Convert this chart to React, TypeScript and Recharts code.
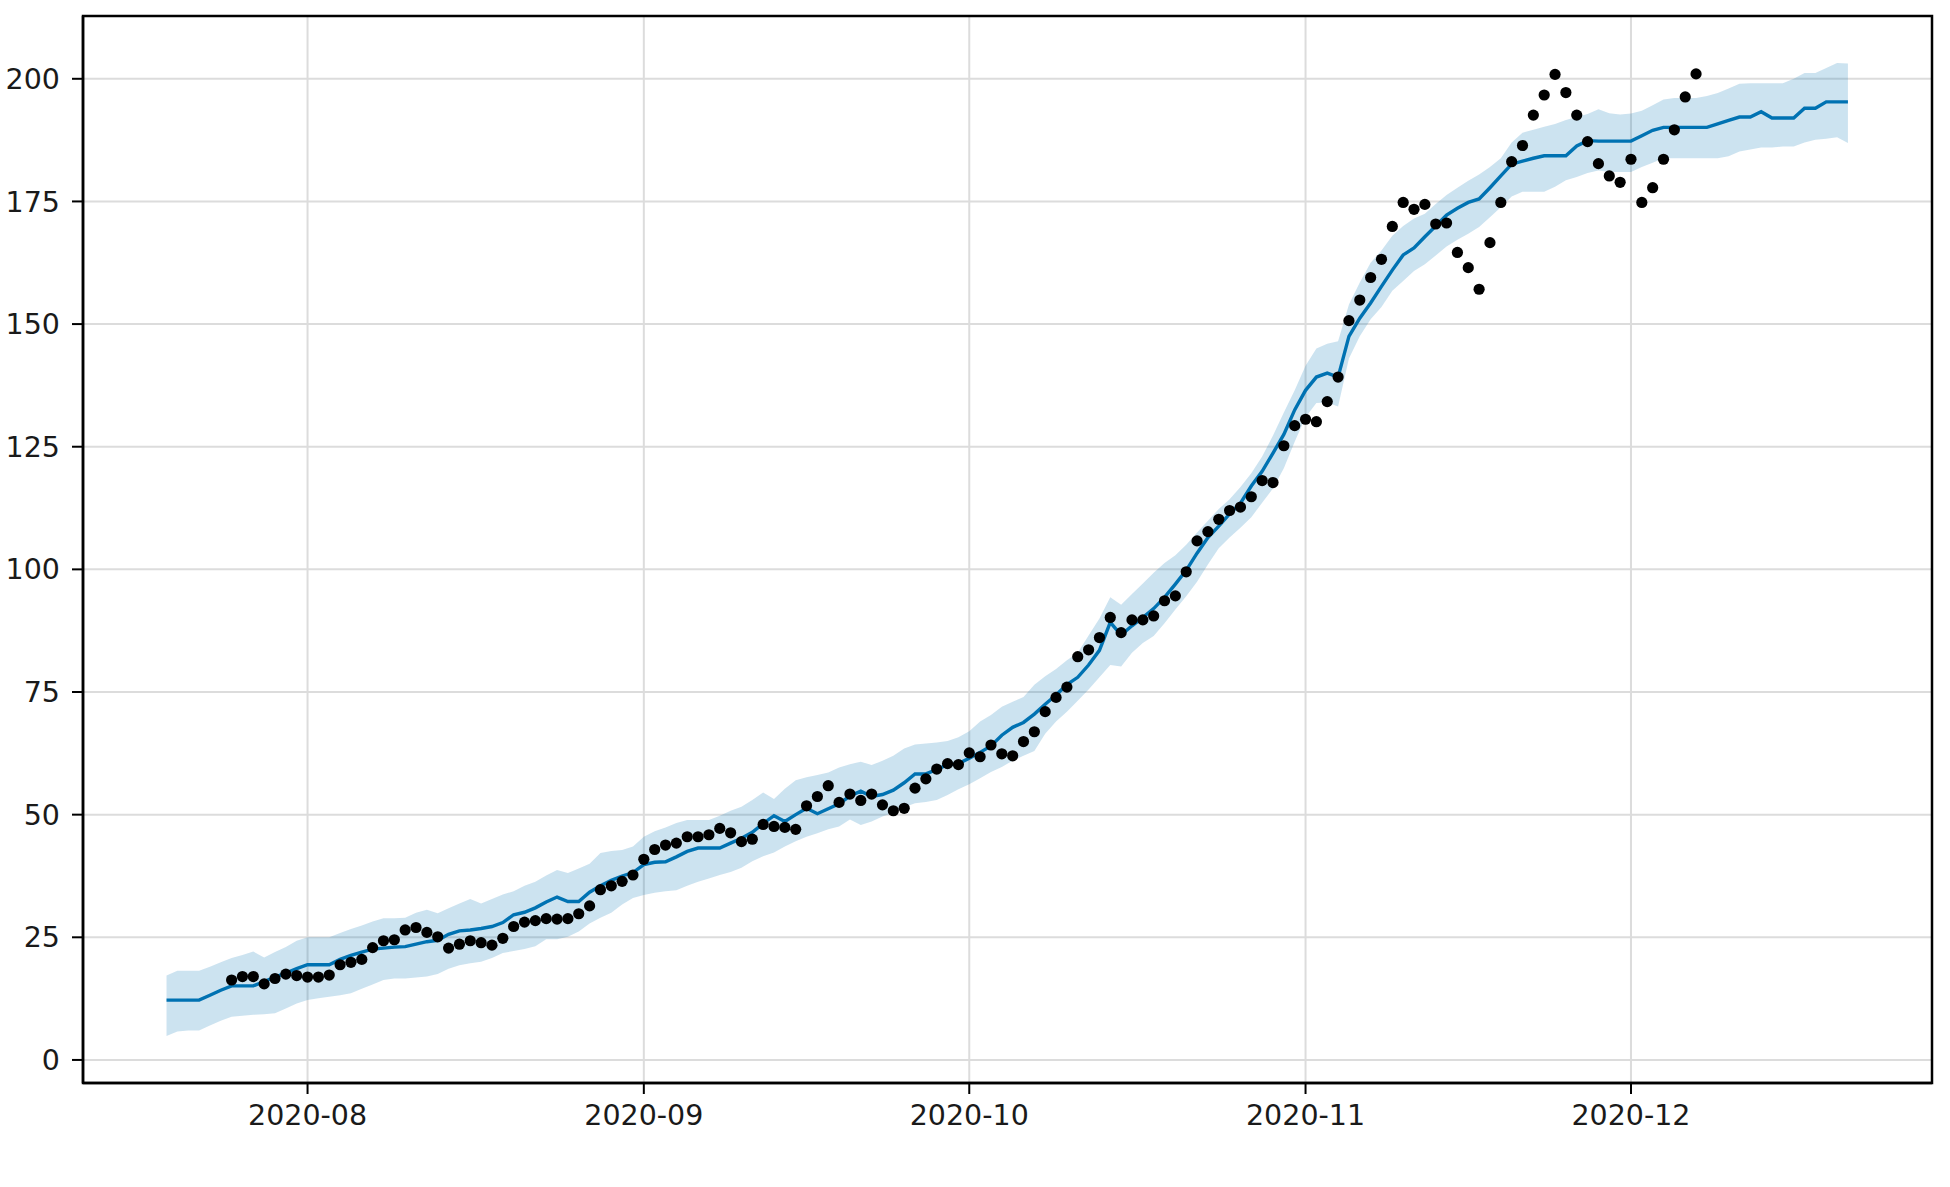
import React from 'react';
import {
  ComposedChart,
  Area,
  Line,
  Scatter,
  XAxis,
  YAxis,
  CartesianGrid,
  ReferenceArea,
} from 'recharts';

// day 0 = 2020-07-19, one value per day up to 2020-12-21
const yhat = [
  12.2, 12.2, 12.2, 12.2, 13.2, 14.2, 15.1, 15.1, 15.1, 16.0,
  16.9, 17.7, 18.6, 19.4, 19.4, 19.4, 20.5, 21.3, 22.0, 22.6,
  22.8, 23.0, 23.1, 23.6, 24.1, 24.4, 25.6, 26.3, 26.5, 26.8,
  27.2, 28.0, 29.6, 30.1, 31.0, 32.2, 33.2, 32.3, 32.3, 34.2,
  35.5, 36.6, 37.5, 38.2, 39.8, 40.3, 40.4, 41.4, 42.5, 43.2,
  43.2, 43.2, 44.2, 45.2, 46.4, 48.2, 49.8, 48.6, 50.0, 51.3,
  50.2, 51.2, 52.2, 53.8, 54.8, 53.7, 54.1, 55.0, 56.5, 58.3,
  58.3, 59.2, 60.2, 60.4, 61.5, 62.7, 64.0, 66.2, 67.8, 68.8,
  70.5, 72.5, 74.4, 76.5, 78.0, 80.5, 83.5, 89.2, 86.6, 88.5,
  90.2, 92.0, 94.3, 97.0, 99.8, 103.3, 106.5, 108.8, 111.3, 113.5,
  117.0, 120.0, 123.7, 127.5, 132.5, 136.5, 139.2, 140.0, 139.2, 147.5,
  151.2, 154.3, 157.7, 161.0, 164.1, 165.5, 167.8, 170.0, 172.2, 173.6,
  174.8, 175.5, 177.8, 180.2, 182.6, 183.2, 183.8, 184.3, 184.3, 184.3,
  186.3, 187.4, 187.3, 187.3, 187.3, 187.3, 188.4, 189.5, 190.1, 190.1,
  190.1, 190.1, 190.1, 190.8, 191.5, 192.2, 192.2, 193.3, 192.0, 192.0,
  192.0, 194.0, 194.0, 195.3, 195.3, 195.3,
];

const yhatUpper = [
  17.2, 18.2, 18.2, 18.2, 19.0, 19.9, 20.8, 21.4, 22.1, 20.9,
  22.0, 23.0, 24.3, 25.0, 25.0, 25.0, 25.9, 26.7, 27.4, 28.2,
  28.9, 28.9, 29.0, 30.0, 30.6, 29.9, 30.9, 31.9, 32.8, 31.9,
  32.8, 33.7, 34.4, 35.5, 36.3, 37.6, 38.7, 38.1, 39.0, 40.0,
  42.2, 42.6, 42.8, 43.5, 45.5, 46.6, 47.4, 48.3, 48.9, 48.9,
  48.9, 49.8, 50.8, 51.6, 53.0, 54.5, 53.2, 55.3, 57.0, 57.6,
  58.1, 58.6, 59.6, 60.3, 60.8, 60.1, 61.0, 62.0, 63.5, 64.3,
  64.5, 64.7, 65.0, 65.8, 67.0, 69.0, 70.3, 72.0, 73.0, 74.0,
  76.5, 78.2, 79.7, 81.5, 83.0, 86.5, 90.0, 94.3, 92.8, 95.0,
  97.1, 99.3, 101.3, 102.9, 105.0, 107.5, 109.9, 112.3, 114.3, 116.8,
  119.6, 123.0, 127.3, 132.0, 136.5, 141.5, 145.0, 146.0, 146.5, 154.0,
  158.5, 162.5, 165.0, 168.0, 170.0, 171.5, 172.5, 174.5, 176.3, 177.8,
  179.2, 180.5, 182.0, 183.8, 187.0, 189.0, 189.6, 190.2, 190.8, 191.6,
  192.2, 192.8, 193.8, 193.0, 192.7, 192.9, 193.5, 194.6, 195.8, 196.1,
  196.1, 196.1, 196.5, 197.1, 198.0, 199.0, 199.1, 199.1, 199.1, 199.1,
  200.0, 201.2, 201.2, 202.2, 203.2, 203.1,
];

const yhatLower = [
  4.9, 5.8, 6.0, 6.0, 7.0, 8.0, 8.8, 9.0, 9.2, 9.3,
  9.5, 10.5, 11.5, 12.2, 12.6, 12.9, 13.2, 13.6, 14.5, 15.4,
  16.3, 16.6, 16.6, 16.8, 17.0, 17.5, 18.6, 19.3, 19.7, 20.0,
  20.8, 21.8, 22.2, 22.6, 23.2, 24.6, 24.6, 25.1, 26.2, 27.8,
  29.0, 30.0, 31.7, 33.0, 33.6, 34.1, 34.4, 34.6, 35.5, 36.3,
  37.0, 37.7, 38.3, 39.2, 40.5, 41.5, 42.3, 43.5, 44.6, 45.5,
  46.2, 47.0, 47.6, 49.0, 47.9, 48.6, 49.6, 50.4, 51.5, 52.3,
  52.6, 53.0, 54.0, 55.2, 56.2, 57.4, 58.7, 59.7, 61.0, 62.0,
  63.0, 66.5, 69.0, 71.0, 73.2, 75.5, 78.0, 80.5, 80.2, 83.0,
  85.0, 86.4, 89.0, 91.8, 94.5, 97.5, 101.0, 104.3, 106.5, 108.5,
  110.6, 113.6, 116.5, 120.6, 126.0, 131.0, 133.9, 134.0, 133.2, 143.0,
  147.5, 151.0, 153.5, 156.8, 158.8, 160.8, 162.2, 164.0, 165.8, 167.2,
  168.4, 169.8, 171.8, 173.8, 176.0, 177.0, 177.0, 177.0, 178.0, 179.3,
  180.0, 180.8, 181.3, 181.0, 181.0, 181.0, 182.0, 182.9, 183.8, 183.8,
  183.8, 183.8, 183.8, 183.8, 184.2, 185.2, 185.6, 186.0, 186.0, 186.2,
  186.2, 187.0, 187.6, 187.8, 188.1, 186.9,
];

// observations start on day 6 (2020-07-25) and end 2020-12-07
const OBSERVED_START = 6;
const observed = [
  16.3, 17.0, 17.0, 15.5, 16.6, 17.5, 17.2, 16.9, 16.9, 17.3,
  19.4, 19.9, 20.5, 22.9, 24.3, 24.5, 26.5, 27.0, 26.0, 25.1,
  22.8, 23.6, 24.3, 23.9, 23.4, 24.8, 27.2, 28.1, 28.4, 28.8,
  28.7, 28.8, 29.8, 31.4, 34.7, 35.5, 36.4, 37.7, 40.9, 42.9,
  43.8, 44.2, 45.5, 45.5, 45.9, 47.2, 46.3, 44.5, 45.0, 48.0,
  47.6, 47.4, 47.0, 51.8, 53.7, 55.9, 52.5, 54.2, 52.9, 54.2,
  52.0, 50.8, 51.3, 55.4, 57.3, 59.3, 60.4, 60.2, 62.6, 61.8,
  64.2, 62.4, 62.0, 64.9, 66.9, 71.0, 73.9, 76.0, 82.2, 83.6,
  86.1, 90.2, 87.1, 89.7, 89.7, 90.5, 93.6, 94.6, 99.5, 105.8,
  107.7, 110.2, 112.0, 112.7, 114.8, 118.1, 117.7, 125.2, 129.3, 130.6,
  130.1, 134.2, 139.2, 150.7, 154.9, 159.5, 163.2, 169.9, 174.8, 173.4,
  174.4, 170.4, 170.6, 164.6, 161.5, 157.1, 166.6, 174.8, 183.1, 186.4,
  192.6, 196.7, 200.9, 197.2, 192.6, 187.2, 182.7, 180.2, 178.9, 183.6,
  174.8, 177.8, 183.6, 189.6, 196.3, 201.0,
];

const xTickDays = [13, 44, 74, 105, 135];
const xTickLabels = ['2020-08', '2020-09', '2020-10', '2020-11', '2020-12'];
const yTicks = [0, 25, 50, 75, 100, 125, 150, 175, 200];

const forecastRows = yhat.map((v, i) => ({
  day: i,
  yhat: v,
  band: [yhatLower[i], yhatUpper[i]],
}));

const observedRows = observed.map((v, i) => ({ day: OBSERVED_START + i, y: v }));

const X_DOMAIN: [number, number] = [-7.7, 162.75];
const Y_DOMAIN: [number, number] = [-4.7, 212.8];

const tickStyle = { fill: '#1a1a1a', fontSize: 28.5, fontFamily: 'DejaVu Sans' };

const Dot = (props: any) => {
  if (props.cx == null || props.cy == null) return null;
  return <circle cx={props.cx} cy={props.cy} r={5.6} fill="#000" />;
};

export default function App() {
  return (
    <div style={{ position: 'absolute', left: 0, top: 0, background: '#fff' }}>
      <ComposedChart
        width={1950}
        height={1187}
        data={forecastRows}
        margin={{ top: 16, right: 18, bottom: 44, left: 0 }}
      >
        <CartesianGrid stroke="#dcdcdc" strokeWidth={2} />
        <XAxis
          dataKey="day"
          type="number"
          domain={X_DOMAIN}
          allowDataOverflow
          ticks={xTickDays}
          tickFormatter={(d: number) => xTickLabels[xTickDays.indexOf(d)] ?? ''}
          tick={tickStyle}
          tickSize={11}
          tickMargin={11}
          height={60}
          axisLine={{ stroke: '#000', strokeWidth: 2.5 }}
          tickLine={{ stroke: '#000', strokeWidth: 2 }}
        />
        <YAxis
          type="number"
          domain={Y_DOMAIN}
          allowDataOverflow
          ticks={yTicks}
          tick={tickStyle}
          tickSize={11}
          tickMargin={12}
          width={83}
          axisLine={{ stroke: '#000', strokeWidth: 2.5 }}
          tickLine={{ stroke: '#000', strokeWidth: 2 }}
        />
        <Scatter
          data={observedRows}
          dataKey="y"
          shape={<Dot />}
          isAnimationActive={false}
        />
        <Line
          dataKey="yhat"
          stroke="#0072B2"
          strokeWidth={3.4}
          dot={false}
          activeDot={false}
          isAnimationActive={false}
        />
        <Area
          dataKey="band"
          stroke="none"
          fill="#0072B2"
          fillOpacity={0.2}
          isAnimationActive={false}
          activeDot={false}
        />
        <ReferenceArea
          x1={X_DOMAIN[0]}
          x2={X_DOMAIN[1]}
          y1={Y_DOMAIN[0]}
          y2={Y_DOMAIN[1]}
          fill="none"
          stroke="#000"
          strokeWidth={2.5}
          ifOverflow="visible"
        />
      </ComposedChart>
    </div>
  );
}
